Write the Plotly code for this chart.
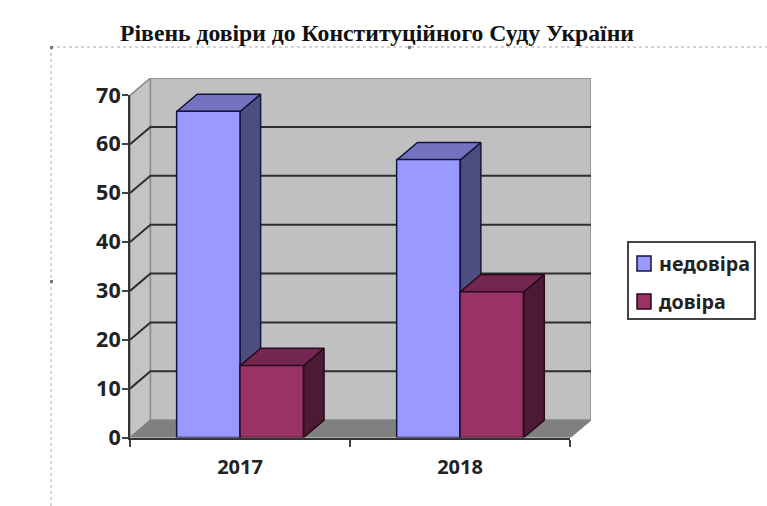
import plotly.graph_objects as go

years = ["2017", "2018"]
nedovira = [66.7, 56.8]
dovira = [14.7, 29.8]
y_ticks = [0, 10, 20, 30, 40, 50, 60, 70]
series_names = ["недовіра", "довіра"]
series_colors = ["#9999FF", "#993366"]

W, H = 767, 506
# depth of the fake 3d box, in axis units
DX = 0.093
DY = 3.55
BAR_W = 0.288
Y_MAX = 70


def px(v):
    return v / W


def py(v):
    return 1 - v / H


fig = go.Figure()


def face(xs, ys, color, line="#555555", width=1):
    fig.add_trace(go.Scatter(x=xs, y=ys, mode="lines", fill="toself", fillcolor=color,
                             line=dict(color=line, width=width), showlegend=False,
                             hoverinfo="skip", xaxis="x", yaxis="y"))


# walls and floor
left, right = -0.5, 1.5
face([left, left, left + DX, left + DX, left], [0, Y_MAX, Y_MAX + DY, DY, 0], "#C4C4C4", "#8c8c8c", 1.5)
face([left + DX, left + DX, right + DX, right + DX, left + DX],
     [DY, Y_MAX + DY, Y_MAX + DY, DY, DY], "#C0C0C0", "#8c8c8c", 1.5)
face([left, right, right + DX, left + DX, left], [0, 0, DY, DY, 0], "#808080", "#808080", 1)

# grid lines on the back and left walls
for v in y_ticks[1:-1]:
    fig.add_trace(go.Scatter(x=[left, left + DX, right + DX], y=[v, v + DY, v + DY], mode="lines",
                             line=dict(color="#2e2e2e", width=2), showlegend=False,
                             hoverinfo="skip", xaxis="x", yaxis="y"))

# side and top faces of the bars
for i in range(len(years)):
    for j, (vals, side, top, edge) in enumerate([(nedovira, "#4D4D80", "#7373BF", "#14143c"),
                                                 (dovira, "#4D1A33", "#732650", "#2a0a1c")]):
        x0 = i - BAR_W + j * BAR_W
        x1 = x0 + BAR_W
        v = vals[i]
        face([x1, x1 + DX, x1 + DX, x1, x1], [0, DY, v + DY, v, 0], side, edge, 1.5)
        face([x0, x0 + DX, x1 + DX, x1, x0], [v, v + DY, v + DY, v, v], top, edge, 1.5)

# front faces, on the visible axes
fig.add_trace(go.Bar(x=years, y=nedovira, name=series_names[0],
                     marker=dict(color=series_colors[0], line=dict(color="#14143c", width=1.5)),
                     xaxis="x2", yaxis="y2"))
fig.add_trace(go.Bar(x=years, y=dovira, name=series_names[1],
                     marker=dict(color=series_colors[1], line=dict(color="#2a0a1c", width=1.5)),
                     xaxis="x2", yaxis="y2"))

shapes = [
    dict(type="line", xref="paper", yref="paper", x0=px(51), x1=1, y0=py(47), y1=py(47),
         line=dict(color="#aaaaaa", width=1, dash="dot")),
    dict(type="line", xref="paper", yref="paper", x0=px(51), x1=px(51), y0=py(47), y1=0,
         line=dict(color="#aaaaaa", width=1, dash="dot")),
    dict(type="rect", xref="paper", yref="paper", x0=px(50), x1=px(53), y0=py(46), y1=py(49),
         fillcolor="#777777", line=dict(width=0)),
    dict(type="rect", xref="paper", yref="paper", x0=px(408), x1=px(411), y0=py(46), y1=py(49),
         fillcolor="#777777", line=dict(width=0)),
    dict(type="rect", xref="paper", yref="paper", x0=px(50), x1=px(53), y0=py(280), y1=py(283),
         fillcolor="#777777", line=dict(width=0)),
    # legend box
    dict(type="rect", xref="paper", yref="paper", x0=px(628), x1=px(755), y0=py(242), y1=py(319),
         fillcolor="white", line=dict(color="#444444", width=2)),
]
annotations = []
for name, color, y_mid, edge in zip(series_names, series_colors, [264, 302], ["#14143c", "#2a0a1c"]):
    shapes.append(dict(type="rect", xref="paper", yref="paper", x0=px(637), x1=px(651),
                       y0=py(y_mid - 8), y1=py(y_mid + 7), fillcolor=color, line=dict(color=edge, width=1.5)))
    annotations.append(dict(text=name, xref="paper", yref="paper", x=px(657), y=py(y_mid - 1),
                            xanchor="left", yanchor="middle", showarrow=False,
                            font=dict(family="Noto Sans", size=19.7, color="#222222", weight=700)))

fig.update_layout(
    width=W, height=H,
    margin=dict(l=0, r=0, t=0, b=0, autoexpand=False),
    paper_bgcolor="white", plot_bgcolor="rgba(0,0,0,0)",
    barmode="group", bargap=1 - 2 * BAR_W, bargroupgap=0,
    title=dict(text="Рівень довіри до Конституційного Суду України", x=377 / W, y=py(33),
               xanchor="center", yanchor="middle",
               font=dict(family="Liberation Serif", size=23.7, color="#111111", weight=700)),
    xaxis=dict(domain=[px(130), px(591)], range=[left, right + DX], visible=False, fixedrange=True),
    yaxis=dict(domain=[py(437.5), py(78)], range=[0, Y_MAX + DY], visible=False, fixedrange=True),
    xaxis2=dict(domain=[px(130), px(570)], type="category", range=[left, right], anchor="y2",
                tickson="boundaries", ticks="outside", ticklen=7, tickwidth=1.5, tickcolor="#444444",
                showline=True, linecolor="#333333", linewidth=2, showgrid=False,
                tickfont=dict(family="Noto Sans", size=20, color="#222222", weight=700),
                ticklabelstandoff=10),
    yaxis2=dict(domain=[py(437.5), py(95)], range=[0, Y_MAX], anchor="x2", tickvals=y_ticks,
                ticks="outside", ticklen=6, tickwidth=1.5, tickcolor="#444444",
                showline=True, linecolor="#333333", linewidth=2, showgrid=False, zeroline=False,
                tickfont=dict(family="Noto Sans", size=21.5, color="#222222", weight=700),
                ticklabelstandoff=-3),
    showlegend=False,
    shapes=shapes,
    annotations=annotations,
)

fig.write_html("out.html", config={"displayModeBar": False},
               post_script="document.body.style.margin='0';")
